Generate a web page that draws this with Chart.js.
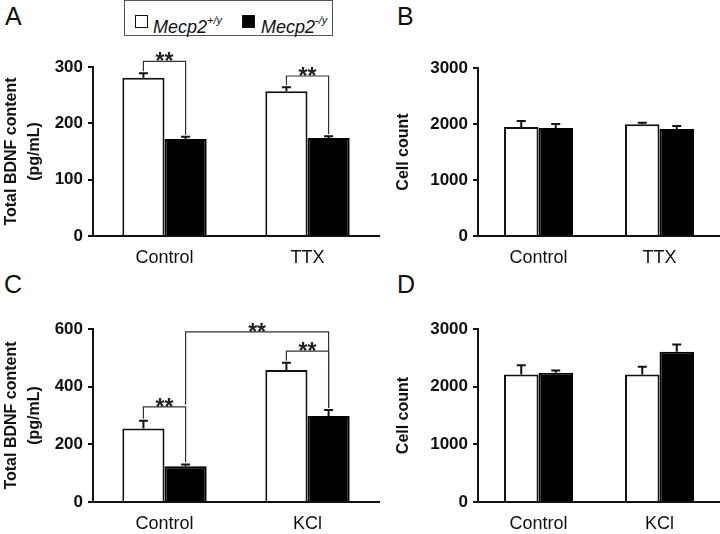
<!DOCTYPE html>
<html>
<head>
<meta charset="utf-8">
<script src="https://cdn.jsdelivr.net/npm/chart.js@4.4.1/dist/chart.umd.min.js"></script>
<style>
  html, body { margin: 0; padding: 0; background: #fff; }
  body { width: 720px; height: 534px; position: relative; overflow: hidden; font-family: "Liberation Sans", Arial, sans-serif; color: #111; }
  canvas { position: absolute; }
  .letter { position: absolute; font-size: 25px; line-height: 25px; color: #111; }
  #legend { position: absolute; left: 124px; top: 0px; width: 209px; height: 36px; border: 1.5px solid #555; box-sizing: border-box; }
  .sw { position: absolute; top: 14px; width: 13px; height: 13px; box-sizing: border-box; border: 1px solid #111; }
  .lt { position: absolute; top: 11px; font-size: 18px; line-height: 20px; font-style: italic; white-space: nowrap; }
  .lt sup { font-size: 11px; position: relative; top: -2px; }
</style>
</head>
<body>
<div class="letter" style="left:5px;top:4px;">A</div>
<div class="letter" style="left:397px;top:4px;">B</div>
<div class="letter" style="left:4px;top:272px;">C</div>
<div class="letter" style="left:397px;top:272px;">D</div>
<div id="legend">
  <div class="sw" style="left:10px;background:#fff;"></div>
  <div class="lt" style="left:28px;">Mecp2<sup>+/y</sup></div>
  <div class="sw" style="left:117px;background:#000;"></div>
  <div class="lt" style="left:136px;">Mecp2<sup>-/y</sup></div>
</div>
<canvas id="cA" width="380" height="270" style="left:0;top:0;"></canvas>
<canvas id="cB" width="340" height="270" style="left:380px;top:0;"></canvas>
<canvas id="cC" width="380" height="264" style="left:0;top:270px;"></canvas>
<canvas id="cD" width="340" height="264" style="left:380px;top:270px;"></canvas>
<script>
// ---------- data ----------
const seriesNames = ['Mecp2+/y', 'Mecp2-/y'];

const catsA = ['Control', 'TTX'];
const wtA = [281, 257];
const wtErrA = [8, 7];
const koA = [172, 174];
const koErrA = [4, 3];
const ticksA = [0, 100, 200, 300];
const bracketsA = [
  { from: [0, 0], to: [0, 1], level: 310 },
  { from: [1, 0], to: [1, 1], level: 284 }
];

const catsB = ['Control', 'TTX'];
const wtB = [1946, 1995];
const wtErrB = [107, 28];
const koB = [1929, 1911];
const koErrB = [71, 53];
const ticksB = [0, 1000, 2000, 3000];
const bracketsB = [];

const catsC = ['Control', 'KCl'];
const wtC = [255, 458];
const wtErrC = [27, 25];
const koC = [124, 298];
const koErrC = [6, 21];
const ticksC = [0, 200, 400, 600];
const bracketsC = [
  { from: [0, 0], to: [0, 1], level: 330 },
  { from: [0, 1], to: [1, 1], level: 590, fromEnd: 330 },
  { from: [1, 0], to: [1, 1], level: 523 }
];

const catsD = ['Control', 'KCl'];
const wtD = [2210, 2210];
const wtErrD = [163, 134];
const koD = [2240, 2605];
const koErrD = [40, 127];
const ticksD = [0, 1000, 2000, 3000];
const bracketsD = [];

// ---------- drawing ----------
const FONT = '"Liberation Sans", Arial, sans-serif';

const annotPlugin = {
  id: 'annot',
  afterDatasetsDraw(chart) {
    const ctx = chart.ctx;
    const ys = chart.scales.y;
    const errs = chart.options.plugins.annot.errs;
    const brackets = chart.options.plugins.annot.brackets;
    ctx.save();
    chart.data.datasets.forEach((ds, di) => {
      const meta = chart.getDatasetMeta(di);
      meta.data.forEach((el, i) => {
        const v = ds.data[i];
        const top = ys.getPixelForValue(v + errs[di][i]);
        ctx.strokeStyle = '#111';
        ctx.lineWidth = 2;
        ctx.beginPath();
        ctx.moveTo(el.x, el.y);
        ctx.lineTo(el.x, top);
        ctx.moveTo(el.x - 4.5, top);
        ctx.lineTo(el.x + 4.5, top);
        ctx.stroke();
      });
    });
    const barX = (p) => chart.getDatasetMeta(p[1]).data[p[0]].x;
    const barTop = (p) => ys.getPixelForValue(chart.data.datasets[p[1]].data[p[0]] + errs[p[1]][p[0]]);
    brackets.forEach(b => {
      const x1 = barX(b.from), x2 = barX(b.to);
      const yl = ys.getPixelForValue(b.level);
      const y1 = (b.fromEnd !== undefined ? ys.getPixelForValue(b.fromEnd) : barTop(b.from)) - 2;
      const y2 = barTop(b.to) - 2;
      ctx.strokeStyle = '#333';
      ctx.lineWidth = 1.2;
      ctx.beginPath();
      ctx.moveTo(x1, y1);
      ctx.lineTo(x1, yl);
      ctx.lineTo(x2, yl);
      ctx.lineTo(x2, y2);
      ctx.stroke();
      ctx.fillStyle = '#222';
      ctx.font = 'bold 23px ' + FONT;
      ctx.textAlign = 'center';
      ctx.textBaseline = 'alphabetic';
      ctx.fillText('**', (x1 + x2) / 2, yl + 8);
    });
    ctx.restore();
  }
};

function makeChart(id, cats, wt, wtErr, ko, koErr, ticks, brackets, cfg) {
  new Chart(document.getElementById(id), {
    type: 'bar',
    data: {
      labels: cats,
      datasets: [
        { label: seriesNames[0], data: wt, backgroundColor: '#ffffff', borderColor: '#111', borderWidth: 2, borderSkipped: 'bottom' },
        { label: seriesNames[1], data: ko, backgroundColor: '#000000', borderColor: '#000', borderWidth: 2, borderSkipped: 'bottom' }
      ]
    },
    plugins: [annotPlugin],
    options: {
      responsive: false,
      animation: false,
      devicePixelRatio: 1,
      layout: { padding: { left: 0, right: cfg.padRight, top: cfg.padTop, bottom: 0 } },
      datasets: { bar: { barPercentage: 1, categoryPercentage: cfg.catPct } },
      plugins: {
        legend: { display: false },
        tooltip: { enabled: false },
        annot: { errs: [wtErr, koErr], brackets: brackets }
      },
      scales: {
        x: {
          offset: true,
          grid: { display: false, drawTicks: false },
          border: { display: true, color: '#111', width: 2 },
          ticks: { color: '#111', font: { family: FONT, size: 18 }, padding: 11, maxRotation: 0 },
          afterFit: (s) => { s.height = cfg.xH; }
        },
        y: {
          min: ticks[0],
          max: ticks[ticks.length - 1],
          afterBuildTicks: (s) => { s.ticks = ticks.map(v => ({ value: v })); },
          grid: { display: true, drawOnChartArea: false, drawTicks: true, tickLength: 5, color: '#111', lineWidth: 2 },
          border: { display: true, color: '#111', width: 2 },
          ticks: { color: '#111', font: { family: FONT, size: 17, weight: 'bold' }, padding: 5, callback: (v) => String(v) },
          title: {
            display: true,
            text: cfg.title,
            color: '#111',
            font: { family: FONT, size: 16, weight: 'bold', lineHeight: 1.45 },
            padding: { top: cfg.titlePad, bottom: 0 }
          },
          afterFit: (s) => { s.width = cfg.yW; }
        }
      }
    }
  });
}

makeChart('cA', catsA, wtA, wtErrA, koA, koErrA, ticksA, bracketsA,
  { padRight: 1, padTop: 67, catPct: 0.59, xH: 34, yW: 93, title: ['Total BDNF content', '(pg/mL)'], titlePad: 0 });
makeChart('cB', catsB, wtB, wtErrB, koB, koErrB, ticksB, bracketsB,
  { padRight: 0, padTop: 68, catPct: 0.57, xH: 34, yW: 98, title: 'Cell count', titlePad: 12 });
makeChart('cC', catsC, wtC, wtErrC, koC, koErrC, ticksC, bracketsC,
  { padRight: 1, padTop: 59, catPct: 0.59, xH: 32, yW: 93, title: ['Total BDNF content', '(pg/mL)'], titlePad: 0 });
makeChart('cD', catsD, wtD, wtErrD, koD, koErrD, ticksD, bracketsD,
  { padRight: 0, padTop: 59, catPct: 0.57, xH: 32, yW: 98, title: 'Cell count', titlePad: 12 });
</script>
</body>
</html>
